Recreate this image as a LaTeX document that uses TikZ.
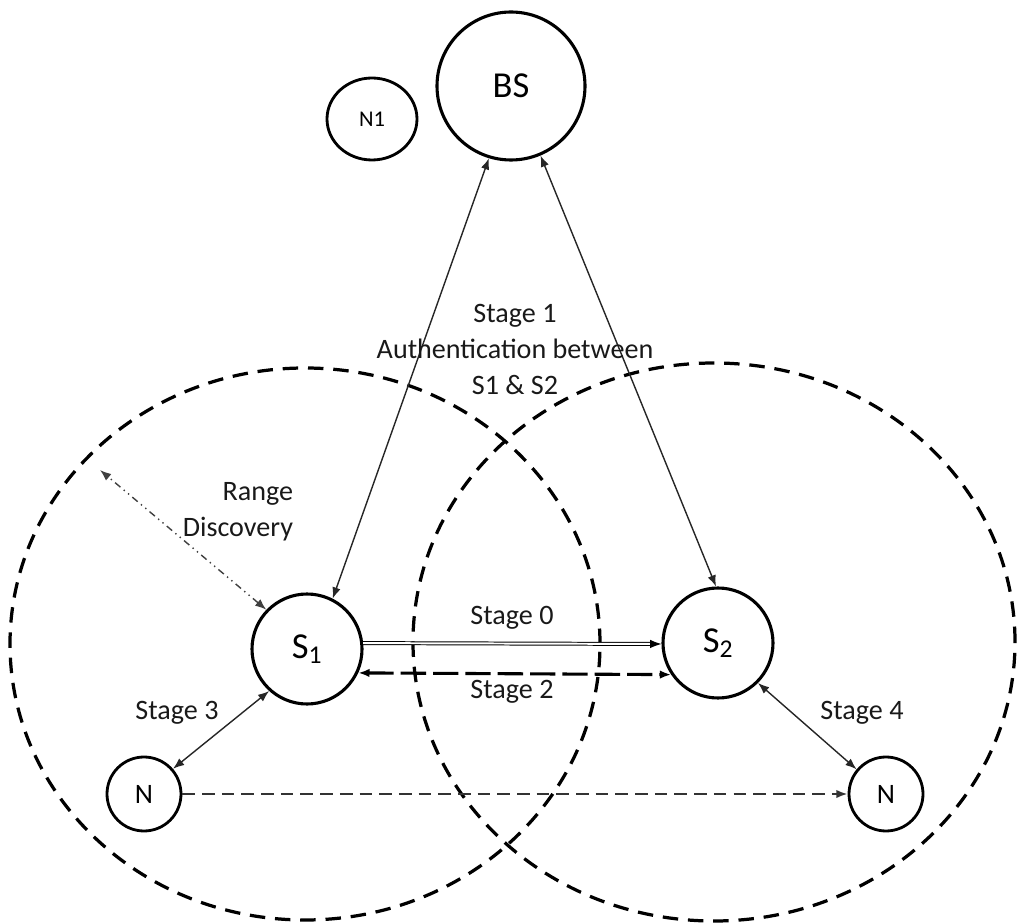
\documentclass[tikz,border=0pt]{standalone}
\usepackage{fontspec}
\setmainfont{Carlito}
\usetikzlibrary{arrows.meta,shapes.geometric}

\begin{document}
\begin{tikzpicture}[
        >={Latex[length=8pt,width=6pt]},
        station/.style={draw,circle,line width=2.2pt,minimum size=2.75cm,inner sep=0pt,font=\fontsize{26}{30}\selectfont},
        sensor/.style={draw,circle,line width=2pt,minimum size=1.85cm,inner sep=0pt,font=\fontsize{20}{24}\selectfont},
        zone/.style={line width=2.3pt,dash pattern=on 11pt off 7pt},
        link/.style={<->,line width=1pt,black!85},
        lbl/.style={font=\fontsize{20}{25.6}\selectfont,align=center,black!90}
    ]
        \useasboundingbox (0,0) rectangle (25.425,-23.075);
        % radio ranges
        \draw[zone] (7.625,-16.1) ellipse [x radius=7.375cm, y radius=6.9cm];
        \draw[zone] (17.85,-16.05) ellipse [x radius=7.525cm, y radius=6.975cm];

        \node[station,minimum size=3.7cm] (bs) at (12.775,-2.15) {BS};
        \node[draw,ellipse,line width=2pt,minimum width=2.25cm,minimum height=2.05cm,inner sep=0pt,font=\fontsize{16}{19}\selectfont] (n1) at (9.3,-2.975) {N1};
        \node[station] (s1) at (7.675,-16.225) {S\textsubscript{1}};
        \node[station] (s2) at (17.95,-16.075) {S\textsubscript{2}};
        \node[sensor] (nl) at (3.6,-19.85) {N};
        \node[sensor] (nr) at (22.15,-19.85) {N};
        \coordinate (rim) at (2.5,-11.75);

        \draw[link] (bs.253) -- (s1.63);
        \draw[link] (bs.293) -- (s2.92);
        \draw[->,double,double distance=1.4pt,line width=0.7pt] (s1.6) -- (s2.181);
        \draw[<->,line width=2.2pt,dash pattern=on 18pt off 5pt] (s1.-25) -- (s2.-146);
        \draw[link] (s1.228) -- (nl.41);
        \draw[link] (s2.-45) -- (nr.140);
        \draw[->,line width=1.5pt,black!80,dash pattern=on 9pt off 5pt] (nl) -- (nr);
        \draw[<->,line width=1pt,black!75,dash pattern=on 5pt off 3pt on 1pt off 3pt on 1pt off 3pt] (s1.136) -- (rim);

        \node[lbl] (stg1) at (12.875,-8.725) {Stage 1\\Authentication between\\S1 \& S2};
        \node[lbl,align=right,anchor=east] (rng) at (7.45,-12.8) {Range\\Discovery};
        \node[lbl] (stg0) at (12.8,-15.45) {Stage 0};
        \node[lbl] (stg2) at (12.8,-17.3) {Stage 2};
        \node[lbl] (stg3) at (4.425,-17.825) {Stage 3};
        \node[lbl] (stg4) at (21.55,-17.825) {Stage 4};
    \end{tikzpicture}
\end{document}
